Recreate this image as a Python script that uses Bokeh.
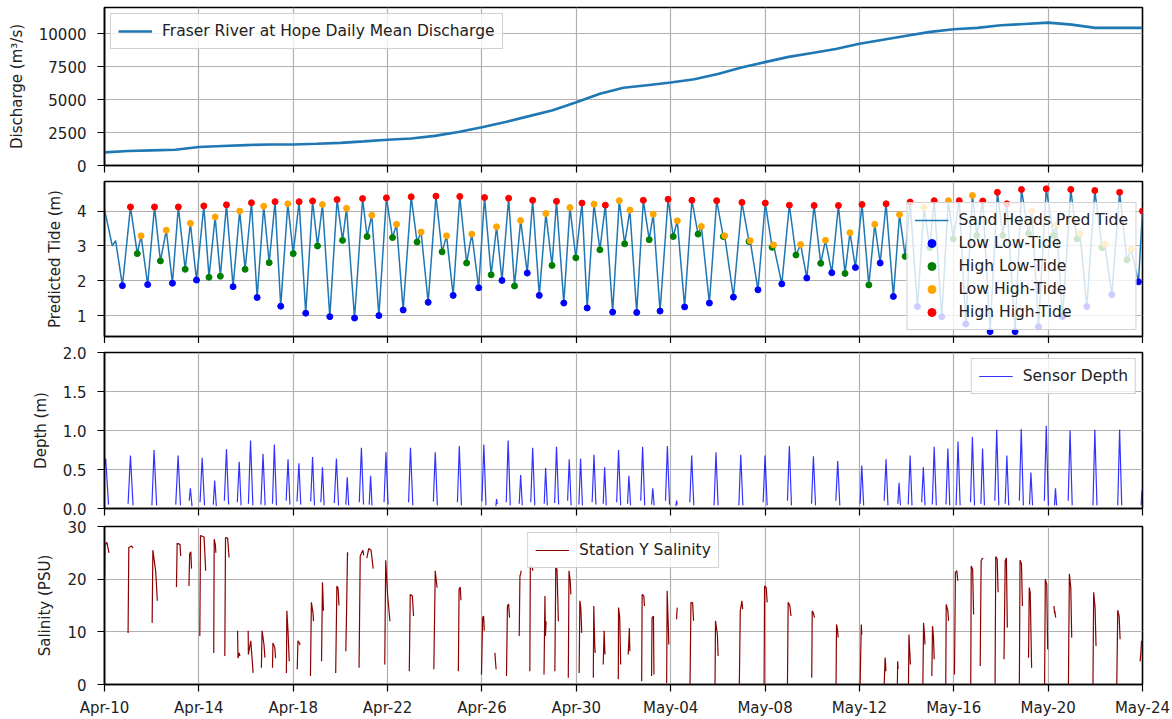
from bokeh.plotting import figure
from bokeh.layouts import column
from bokeh.models import FixedTicker, Range1d
from bokeh.embed import file_html
from bokeh.resources import INLINE

# x values are days after Apr-10
tick_days = [0, 4, 8, 12, 16, 20, 24, 28, 32, 36, 40, 44]
tick_labels = ["Apr-10", "Apr-14", "Apr-18", "Apr-22", "Apr-26", "Apr-30",
               "May-04", "May-08", "May-12", "May-16", "May-20", "May-24"]

# ---- Panel 1: Fraser River at Hope daily mean discharge (m3/s)
discharge_day = [0, 1, 2, 3, 4, 5, 6, 7, 8, 9, 10, 11, 12, 13, 14, 15, 16, 17, 18, 19, 20,
                 21, 22, 23, 24, 25, 26, 27, 28, 29, 30, 31, 32, 33, 34, 35, 36, 37, 38, 39,
                 40, 41, 42, 43, 44]
discharge = [1000, 1100, 1150, 1200, 1400, 1480, 1550, 1600, 1600, 1650, 1720, 1830, 1950,
             2050, 2250, 2550, 2900, 3300, 3750, 4200, 4800, 5450, 5900, 6100, 6300, 6550,
             6950, 7450, 7850, 8250, 8550, 8850, 9250, 9550, 9850, 10150, 10350, 10450,
             10650, 10750, 10850, 10700, 10450, 10450, 10450]

# ---- Panel 2: predicted tide extremes (N = plain curve point, L = low low, G = high low,
#      O = low high, R = high high)
tide_t = [0.00, 0.33, 0.47, 0.76, 1.10, 1.39, 1.55, 1.83, 2.12, 2.37, 2.62, 2.88, 3.13, 3.42,
          3.64, 3.90, 4.21, 4.43, 4.69, 4.91, 5.17, 5.45, 5.73, 5.96, 6.23, 6.47, 6.75, 6.98,
          7.23, 7.47, 7.77, 8.00, 8.25, 8.53, 8.82, 9.03, 9.24, 9.55, 9.86, 10.09, 10.26, 10.60,
          10.94, 11.13, 11.33, 11.63, 11.95, 12.21, 12.38, 12.66, 13.00, 13.25, 13.42, 13.72,
          14.05, 14.31, 14.50, 14.78, 15.06, 15.35, 15.57, 15.86, 16.11, 16.39, 16.62, 16.85,
          17.13, 17.38, 17.64, 17.92, 18.15, 18.43, 18.71, 18.97, 19.16, 19.47, 19.73, 19.98,
          20.24, 20.46, 20.75, 21.00, 21.23, 21.54, 21.82, 22.05, 22.27, 22.56, 22.84, 23.09,
          23.26, 23.55, 23.89, 24.11, 24.28, 24.59, 24.90, 25.16, 25.30, 25.64, 25.95, 26.23,
          26.29, 26.66, 27.02, 27.32, 27.37, 27.70, 28.01, 28.30, 28.36, 28.71, 29.03, 29.31,
          29.51, 29.77, 30.08, 30.36, 30.56, 30.83, 31.11, 31.39, 31.60, 31.83, 32.11, 32.40,
          32.65, 32.88, 33.13, 33.44, 33.70, 33.94, 34.15, 34.46, 34.74, 34.98, 35.17, 35.49,
          35.77, 35.98, 36.23, 36.51, 36.79, 36.98, 37.23, 37.54, 37.85, 38.08, 38.25, 38.60,
          38.87, 39.17, 39.31, 39.59, 39.92, 40.23, 40.35, 40.61, 40.96, 41.22, 41.35, 41.64,
          41.98, 42.28, 42.40, 42.70, 43.03, 43.34, 43.52, 43.83, 44.00]
tide_v = [4.05, 3.00, 3.15, 1.86, 4.12, 2.78, 3.29, 1.89, 4.12, 2.57, 3.45, 1.93, 4.12, 2.33,
          3.65, 2.02, 4.15, 2.10, 3.83, 2.13, 4.18, 1.83, 4.00, 2.33, 4.24, 1.52, 4.14, 2.52,
          4.27, 1.27, 4.21, 2.78, 4.27, 1.07, 4.29, 3.00, 4.19, 0.97, 4.33, 3.16, 4.08, 0.93,
          4.36, 3.27, 3.88, 1.00, 4.38, 3.24, 3.62, 1.16, 4.41, 3.11, 3.40, 1.38,
          4.43, 2.83, 3.29, 1.58, 4.42, 2.51, 3.34, 1.80, 4.39, 2.17, 3.55, 2.01,
          4.37, 1.85, 3.73, 2.22, 4.31, 1.58, 3.93, 2.44, 4.28, 1.36, 4.10, 2.66,
          4.23, 1.22, 4.20, 2.89, 4.17, 1.10, 4.30, 3.06, 4.03, 1.09, 4.31, 3.18,
          3.91, 1.13, 4.34, 3.27, 3.72, 1.25, 4.31, 3.34, 3.56, 1.36, 4.30, 3.27,
          3.29, 1.53, 4.25, 3.13, 3.15, 1.74, 4.23, 2.96, 3.03, 1.91, 4.17, 2.74,
          3.04, 2.08, 4.16, 2.50, 3.16, 2.23, 4.16, 2.21, 3.38, 2.38, 4.19, 1.88,
          3.62, 2.51, 4.21, 1.55, 3.90, 2.70, 4.26, 1.26, 4.11, 2.95, 4.30, 0.97,
          4.30, 3.20, 4.30, 0.76, 4.45, 3.30, 4.29, 0.54, 4.54, 3.30, 4.21, 0.54,
          4.62, 3.35, 4.00, 0.68, 4.64, 3.30, 3.60, 0.97, 4.62, 3.20, 3.35, 1.26,
          4.59, 2.95, 3.05, 1.60, 4.54, 2.60, 2.90, 1.97, 4.00]
tide_kind = "NNNLRGOLRGOLRGOLRGOGRLOGRLOGRLOGRLRGOLRGOLRGOLRGOLRGOLRGOLRGOLRGOLRGOLRLOGRLOGRLOGRLOGOLRGOLRGOLRGOLRGOLRGOLRGOLRGOLRGOLRGOLRGOLRLOGRLOGRLOGRLOGRLRGRLRGOLRGOLRGOLRGOLRGOLRGOLRGOLRGOLN"

# ---- Panel 3: sensor depth spikes (rise, peak, fall) in days and metres
depth_spike_t = [
    [0.00, 0.05, 0.17], [1.00, 1.10, 1.21], [2.01, 2.10, 2.21], [3.02, 3.12, 3.22],
    [3.59, 3.64, 3.71], [4.05, 4.14, 4.24], [4.61, 4.67, 4.74], [5.08, 5.17, 5.26],
    [5.63, 5.71, 5.79], [6.10, 6.19, 6.29], [6.63, 6.72, 6.81], [7.12, 7.20, 7.29],
    [7.70, 7.78, 7.86], [8.16, 8.24, 8.32], [8.74, 8.82, 8.90], [9.17, 9.24, 9.31],
    [9.74, 9.83, 9.92], [10.23, 10.29, 10.35], [10.80, 10.89, 10.98], [11.22, 11.28, 11.34],
    [11.85, 11.93, 12.02], [12.89, 12.97, 13.07], [13.94, 14.02, 14.11], [14.96, 15.04, 15.13],
    [16.00, 16.08, 16.17], [16.59, 16.62, 16.65], [17.03, 17.11, 17.20], [17.58, 17.64, 17.71],
    [18.07, 18.15, 18.24], [18.64, 18.70, 18.77], [19.08, 19.16, 19.25], [19.63, 19.70, 19.78],
    [20.11, 20.18, 20.26], [20.67, 20.75, 20.83], [21.14, 21.20, 21.27], [21.71, 21.79, 21.88],
    [22.17, 22.23, 22.30], [22.73, 22.81, 22.90], [23.19, 23.24, 23.30], [23.78, 23.86, 23.95],
    [24.22, 24.25, 24.28], [24.81, 24.89, 24.98], [25.84, 25.92, 26.01], [26.89, 26.97, 27.06],
    [27.92, 28.00, 28.09], [28.95, 29.03, 29.12], [29.97, 30.05, 30.14], [31.00, 31.08, 31.17],
    [32.03, 32.10, 32.18], [33.05, 33.13, 33.21], [33.63, 33.68, 33.74], [34.07, 34.15, 34.23],
    [34.64, 34.71, 34.78], [35.09, 35.17, 35.26], [35.67, 35.75, 35.83], [36.10, 36.18, 36.27],
    [36.71, 36.79, 36.88], [37.15, 37.22, 37.30], [37.74, 37.82, 37.91], [38.18, 38.25, 38.33],
    [38.78, 38.86, 38.95], [39.21, 39.27, 39.34], [39.84, 39.92, 40.01], [40.27, 40.31, 40.36],
    [40.85, 40.93, 41.02], [41.90, 41.98, 42.07], [42.95, 43.03, 43.12], [43.94, 43.97, 44.00]]
depth_spike_v = [
    [0.55, 0.64, 0.05], [0.06, 0.68, 0.04], [0.04, 0.75, 0.04], [0.05, 0.68, 0.04],
    [0.10, 0.26, 0.03], [0.08, 0.65, 0.04], [0.05, 0.36, 0.03], [0.10, 0.76, 0.05],
    [0.08, 0.60, 0.04], [0.06, 0.87, 0.04], [0.05, 0.70, 0.04], [0.06, 0.82, 0.04],
    [0.10, 0.63, 0.05], [0.09, 0.58, 0.05], [0.09, 0.66, 0.04], [0.08, 0.53, 0.04],
    [0.07, 0.64, 0.04], [0.05, 0.40, 0.04], [0.08, 0.78, 0.05], [0.05, 0.42, 0.04],
    [0.08, 0.72, 0.05], [0.08, 0.78, 0.04], [0.09, 0.72, 0.04], [0.08, 0.80, 0.04],
    [0.09, 0.82, 0.04], [0.03, 0.12, 0.06], [0.08, 0.87, 0.04], [0.06, 0.43, 0.04],
    [0.08, 0.78, 0.04], [0.06, 0.52, 0.04], [0.07, 0.79, 0.05], [0.10, 0.63, 0.04],
    [0.05, 0.64, 0.04], [0.08, 0.69, 0.05], [0.06, 0.53, 0.04], [0.08, 0.75, 0.04],
    [0.06, 0.42, 0.04], [0.10, 0.79, 0.04], [0.05, 0.26, 0.04], [0.10, 0.80, 0.05],
    [0.03, 0.10, 0.05], [0.08, 0.68, 0.04], [0.04, 0.72, 0.04], [0.04, 0.69, 0.04],
    [0.08, 0.68, 0.04], [0.10, 0.80, 0.04], [0.06, 0.67, 0.04], [0.10, 0.61, 0.04],
    [0.06, 0.55, 0.04], [0.10, 0.63, 0.04], [0.06, 0.33, 0.04], [0.05, 0.68, 0.04],
    [0.08, 0.53, 0.04], [0.05, 0.79, 0.04], [0.05, 0.77, 0.04], [0.04, 0.86, 0.04],
    [0.08, 0.92, 0.04], [0.06, 0.77, 0.04], [0.10, 1.01, 0.04], [0.06, 0.68, 0.04],
    [0.10, 1.02, 0.04], [0.05, 0.46, 0.04], [0.10, 1.06, 0.04], [0.04, 0.26, 0.04],
    [0.10, 1.00, 0.04], [0.04, 1.01, 0.04], [0.04, 1.01, 0.04], [0.04, 0.20, 0.25]]

# ---- Panel 4: Station Y salinity bursts (4 samples each), days and PSU
sal_burst_t = [
    [0.00, 0.02, 0.10, 0.19], [1.00, 1.03, 1.15, 1.21], [2.02, 2.05, 2.17, 2.24],
    [3.05, 3.08, 3.20, 3.23], [3.58, 3.61, 3.66, 3.69], [4.04, 4.07, 4.22, 4.29],
    [4.63, 4.65, 4.70, 4.72], [5.10, 5.13, 5.22, 5.28], [5.64, 5.66, 5.71, 5.74],
    [6.09, 6.10, 6.20, 6.30], [6.65, 6.68, 6.76, 6.80], [7.12, 7.14, 7.22, 7.25],
    [7.71, 7.73, 7.78, 7.83], [8.17, 8.20, 8.27, 8.29], [8.73, 8.77, 8.84, 8.86],
    [9.20, 9.24, 9.26, 9.28], [9.80, 9.85, 9.90, 9.94], [10.23, 10.27, 10.30, 10.31],
    [10.79, 10.84, 10.95, 10.99], [11.12, 11.20, 11.30, 11.39], [11.88, 11.92, 12.00, 12.10],
    [12.92, 12.96, 13.05, 13.10], [13.96, 14.02, 14.07, 14.10], [15.00, 15.03, 15.08, 15.11],
    [15.98, 16.03, 16.07, 16.10], [16.55, 16.57, 16.59, 16.60], [17.04, 17.08, 17.13, 17.17],
    [17.58, 17.61, 17.64, 17.66], [18.03, 18.05, 18.13, 18.16], [18.63, 18.67, 18.69, 18.72],
    [19.09, 19.13, 19.18, 19.24], [19.66, 19.69, 19.74, 19.77], [20.12, 20.15, 20.19, 20.23],
    [20.72, 20.74, 20.78, 20.80], [21.14, 21.18, 21.21, 21.22], [21.78, 21.79, 21.84, 21.88],
    [22.20, 22.25, 22.26, 22.27], [22.77, 22.79, 22.86, 22.89], [23.19, 23.21, 23.27, 23.29],
    [23.83, 23.85, 23.90, 23.92], [24.25, 24.26, 24.27, 24.28], [24.82, 24.86, 24.93, 24.97],
    [25.88, 25.90, 25.98, 26.01], [26.91, 26.95, 27.02, 27.05], [27.96, 27.98, 28.05, 28.09],
    [28.95, 28.98, 29.05, 29.10], [29.98, 30.00, 30.05, 30.10], [31.01, 31.03, 31.07, 31.10],
    [32.03, 32.08, 32.09, 32.10], [33.05, 33.09, 33.11, 33.12], [33.61, 33.62, 33.63, 33.64],
    [34.08, 34.10, 34.15, 34.16], [34.69, 34.72, 34.75, 34.78], [35.07, 35.10, 35.14, 35.17],
    [35.66, 35.68, 35.75, 35.78], [36.03, 36.07, 36.13, 36.17], [36.72, 36.74, 36.80, 36.84],
    [37.12, 37.16, 37.22, 37.23], [37.75, 37.78, 37.84, 37.88], [38.13, 38.18, 38.23, 38.27],
    [38.78, 38.81, 38.87, 38.91], [39.17, 39.20, 39.24, 39.30], [39.85, 39.88, 39.94, 39.98],
    [40.25, 40.27, 40.28, 40.32], [40.86, 40.90, 40.96, 41.00], [41.90, 41.93, 41.99, 42.03],
    [42.91, 42.95, 43.01, 43.05], [43.90, 43.93, 43.95, 43.96]]
sal_burst_v = [
    [20.0, 26.5, 27.0, 25.0], [9.8, 26.0, 26.3, 25.9], [11.7, 25.5, 21.5, 15.9],
    [18.5, 26.8, 26.6, 24.4], [18.7, 24.8, 25.2, 22.0], [9.2, 28.3, 28.0, 21.6],
    [6.0, 27.6, 26.5, 25.0], [5.4, 27.9, 27.8, 24.1], [10.2, 5.0, 6.0, 5.4],
    [10.2, 5.7, 8.3, 2.2], [3.2, 10.2, 7.6, 5.1], [3.2, 7.9, 7.0, 5.0],
    [2.2, 14.0, 10.0, 4.4], [2.9, 8.3, 7.8, 7.5], [1.6, 15.6, 13.5, 12.0],
    [4.4, 19.4, 17.0, 14.0], [2.2, 18.7, 18.3, 15.0], [6.3, 16.0, 25.1, 24.5],
    [3.2, 24.4, 25.5, 24.5], [24.0, 25.8, 25.5, 22.0], [3.8, 23.6, 17.0, 12.0],
    [2.5, 17.1, 16.8, 13.0], [2.9, 21.6, 19.5, 18.4], [2.5, 18.1, 18.5, 16.0],
    [1.9, 12.7, 13.0, 10.2], [6.0, 4.5, 3.5, 2.9], [1.6, 14.9, 15.3, 12.7],
    [9.2, 20.6, 21.0, 21.6], [2.5, 22.5, 22.2, 21.6], [1.9, 16.8, 9.2, 12.0],
    [2.5, 22.2, 21.9, 12.0], [1.3, 21.6, 19.7, 17.1], [2.2, 15.9, 14.6, 9.8],
    [1.3, 14.9, 7.6, 6.0], [3.8, 10.2, 6.0, 5.7], [1.0, 14.6, 12.7, 3.8],
    [5.7, 10.7, 8.0, 6.3], [0.6, 17.1, 16.8, 14.9], [1.6, 12.7, 13.0, 1.9],
    [0.3, 17.8, 11.0, 7.6], [12.4, 13.5, 14.0, 14.6], [0.0, 15.6, 15.5, 12.1],
    [0.0, 12.1, 9.5, 5.4], [0.0, 14.0, 15.9, 14.3], [0.0, 18.7, 18.4, 15.6],
    [0.0, 15.6, 15.0, 13.0], [1.3, 14.0, 13.5, 12.7], [0.0, 11.4, 10.5, 8.9],
    [0.0, 11.4, 10.5, 9.5], [0.0, 5.1, 4.0, 2.5], [0.0, 4.4, 3.8, 3.0],
    [0.0, 9.5, 5.0, 3.8], [0.0, 11.7, 10.0, 7.6], [1.6, 11.1, 9.0, 4.8],
    [0.0, 15.2, 14.0, 12.1], [1.9, 21.3, 21.6, 19.7], [0.0, 22.5, 21.9, 13.3],
    [3.5, 23.5, 24.0, 23.8], [0.0, 24.3, 23.8, 17.5], [4.8, 23.5, 24.0, 10.8],
    [0.0, 23.6, 22.9, 14.9], [5.1, 18.4, 17.5, 3.2], [0.0, 20.0, 19.0, 6.7],
    [14.9, 13.5, 14.0, 12.7], [0.0, 21.0, 18.4, 8.9], [0.0, 17.5, 14.6, 7.3],
    [0.0, 14.1, 13.0, 8.6], [4.4, 6.0, 7.5, 8.3]]

FONT = "DejaVu Sans"
FS = "15px"
TXT = "#222222"
x_range = Range1d(0, 44)


def make_fig(y0, y1, yticks, ylabels, ylabel, frame_h, top, bottom, show_x):
    p = figure(frame_width=1038, frame_height=frame_h, x_range=x_range,
               y_range=Range1d(y0, y1), output_backend="svg", toolbar_location=None,
               min_border_left=104, min_border_right=30, min_border_top=top,
               min_border_bottom=bottom, background_fill_color="white",
               border_fill_color="white")
    p.xaxis.ticker = FixedTicker(ticks=tick_days)
    p.xaxis.major_label_overrides = dict(zip(tick_days, tick_labels))
    p.yaxis.ticker = FixedTicker(ticks=yticks)
    p.yaxis.major_label_overrides = dict(zip(yticks, ylabels))
    p.yaxis.axis_label = ylabel
    p.yaxis.axis_label_text_font = FONT
    p.yaxis.axis_label_text_font_size = FS
    p.yaxis.axis_label_text_font_style = "normal"
    p.yaxis.axis_label_text_color = TXT
    p.yaxis.axis_label_standoff = 10
    for ax in (p.xaxis[0], p.yaxis[0]):
        ax.major_label_text_font = FONT
        ax.major_label_text_font_size = FS
        ax.major_label_text_color = TXT
        ax.major_label_standoff = 7
        ax.major_tick_out = 7
        ax.major_tick_in = 0
        ax.major_tick_line_color = "black"
        ax.major_tick_line_width = 1.2
        ax.minor_tick_line_color = None
        ax.axis_line_color = "black"
        ax.axis_line_width = 1.5
    p.yaxis.major_label_standoff = 11
    if not show_x:
        # keep the tick marks between panels, but draw no tick labels there
        p.xaxis.major_label_text_color = None
        p.xaxis.major_label_standoff = 0
    p.grid.grid_line_color = "#b0b0b0"
    p.grid.grid_line_width = 1.2
    p.outline_line_color = "black"
    p.outline_line_width = 1.6
    p.outline_line_alpha = 1.0
    return p


def style_legend(p, loc):
    lg = p.legend[0]
    lg.location = loc
    lg.label_text_font = FONT
    lg.label_text_font_size = "15.5px"
    lg.label_text_color = TXT
    lg.background_fill_color = "white"
    lg.background_fill_alpha = 0.8
    lg.border_line_color = "#cccccc"
    lg.border_line_alpha = 0.9
    lg.border_line_width = 1
    lg.glyph_width = 34
    lg.glyph_height = 20
    lg.label_height = 20
    lg.label_standoff = 10
    lg.padding = 7
    lg.spacing = 3
    lg.margin = 6


# Panel 1
p1 = make_fig(0, 12000, [0, 2500, 5000, 7500, 10000], ["0", "2500", "5000", "7500", "10000"],
              "Discharge (m³/s)", 158, 7, 9, False)
p1.line(discharge_day, discharge, line_color="#1f77b4", line_width=2.6,
        legend_label="Fraser River at Hope Daily Mean Discharge")
style_legend(p1, "top_left")

# Panel 2
p2 = make_fig(0.4, 4.85, [1, 2, 3, 4], ["1", "2", "3", "4"], "Predicted Tide (m)",
              155, 7, 7, False)
p2.line(tide_t, tide_v, line_color="#1f77b4", line_width=1.5,
        legend_label="Sand Heads Pred Tide")
kinds = [("L", "blue", "Low Low-Tide"), ("G", "green", "High Low-Tide"),
         ("O", "orange", "Low High-Tide"), ("R", "red", "High High-Tide")]
for code, col, lab in kinds:
    xs = [t for t, k in zip(tide_t, tide_kind) if k == code]
    ys = [v for v, k in zip(tide_v, tide_kind) if k == code]
    p2.scatter(xs, ys, size=6, fill_color=col, line_color=col, legend_label=lab)
style_legend(p2, "bottom_right")

# Panel 3
p3 = make_fig(0, 2.0, [0, 0.5, 1.0, 1.5, 2.0], ["0.0", "0.5", "1.0", "1.5", "2.0"],
              "Depth (m)", 156, 9, 9, False)
p3.multi_line(depth_spike_t, depth_spike_v, line_color="blue", line_alpha=0.8,
              line_width=1.2, legend_label="Sensor Depth")
style_legend(p3, "top_right")

# Panel 4
p4 = make_fig(0, 30, [0, 10, 20, 30], ["0", "10", "20", "30"], "Salinity (PSU)",
              158, 9, 35, True)
p4.multi_line(sal_burst_t, sal_burst_v, line_color="darkred", line_width=1.2,
              legend_label="Station Y Salinity")
style_legend(p4, "top_center")

layout = column(p1, p2, p3, p4, spacing=0)
open("out.html", "w").write(file_html(layout, INLINE))
